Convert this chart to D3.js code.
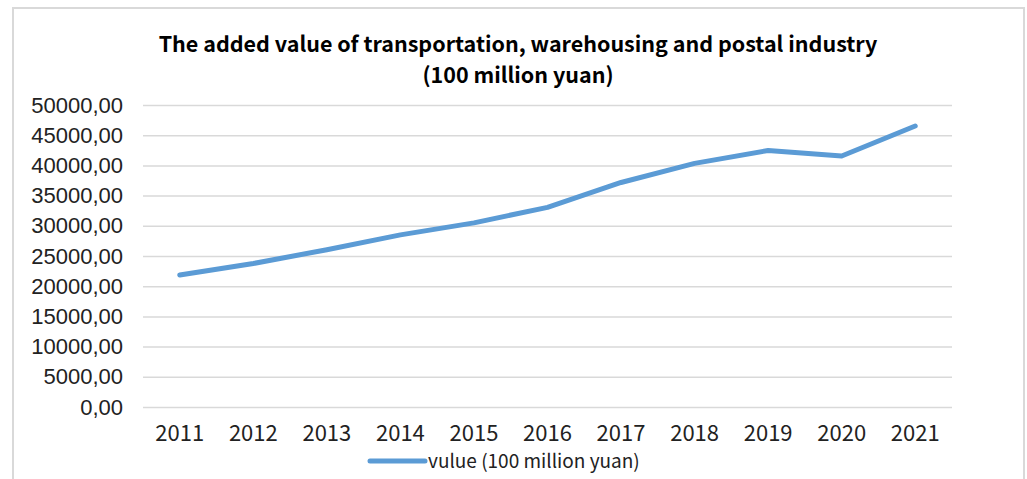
<!DOCTYPE html>
<html>
<head>
<meta charset="utf-8">
<script src="https://cdn.jsdelivr.net/npm/d3@7"></script>
<style>
  body { margin: 0; background: #fff; }
  .grid line { stroke: #d9d9d9; stroke-width: 1.5; }
  .grid .domain { display: none; }
</style>
</head>
<body>
<div id="wrapper"></div>
<script>
// data
const years = ['2011', '2012', '2013', '2014', '2015', '2016', '2017', '2018', '2019', '2020', '2021'];
const values = [21842, 23763, 26043, 28500, 30488, 33059, 37172, 40337, 42466, 41562, 46520];
const yTicks = [0, 5000, 10000, 15000, 20000, 25000, 30000, 35000, 40000, 45000, 50000];
const titleLines = ['The added value of transportation, warehousing and postal industry', '(100 million yuan)'];
const seriesName = 'vulue (100 million yuan)';

const dimensions = {
  width: 1027,
  height: 479,
  margin: { top: 105, right: 75, bottom: 72, left: 143 }
};
dimensions.boundW = dimensions.width - dimensions.margin.left - dimensions.margin.right;
dimensions.boundH = dimensions.height - dimensions.margin.top - dimensions.margin.bottom;

const svg = d3.select('#wrapper').append('svg')
  .attr('width', dimensions.width)
  .attr('height', dimensions.height);

// chart frame
svg.append('rect')
  .attr('x', 13).attr('y', 8)
  .attr('width', 1011).attr('height', 490)
  .attr('fill', '#fff')
  .attr('stroke', '#d9d9d9')
  .attr('stroke-width', 2);

// title
svg.append('g').selectAll('text')
  .data(titleLines)
  .join('text')
  .attr('x', 518)
  .attr('y', (d, i) => 52 + i * 31)
  .attr('text-anchor', 'middle')
  .style('font-family', '"Noto Sans CJK SC", "Noto Sans", sans-serif')
  .style('font-weight', 'bold')
  .style('font-size', '21.5px')
  .attr('fill', '#000')
  .text(d => d);

const bounds = svg.append('g')
  .attr('transform', `translate(${dimensions.margin.left},${dimensions.margin.top})`);

const xScale = d3.scaleBand()
  .domain(years)
  .range([0, dimensions.boundW]);

const yScale = d3.scaleLinear()
  .domain([0, 50000])
  .range([dimensions.boundH, 0]);

// gridlines + y labels
const yAxisGenerator = d3.axisLeft(yScale)
  .tickValues(yTicks)
  .tickSize(-dimensions.boundW)
  .tickPadding(20)
  .tickFormat(d => d3.format('.2f')(d).replace('.', ','));

const yAxis = bounds.append('g')
  .attr('class', 'grid')
  .call(yAxisGenerator);

yAxis.selectAll('text')
  .style('font-family', '"Liberation Sans", Arial, sans-serif')
  .style('font-size', '22px')
  .attr('fill', '#222');

// x labels
const xAxisGenerator = d3.axisBottom(xScale)
  .tickSize(0)
  .tickPadding(18);

const xAxis = bounds.append('g')
  .attr('transform', `translate(0,${dimensions.boundH})`)
  .call(xAxisGenerator);

xAxis.select('.domain').remove();
xAxis.selectAll('text')
  .style('font-family', '"Noto Sans CJK SC", "Noto Sans", sans-serif')
  .style('font-size', '22px')
  .attr('fill', '#222');

// the line
const lineGenerator = d3.line()
  .x((d, i) => xScale(years[i]) + xScale.bandwidth() / 2)
  .y(d => yScale(d));

bounds.append('path')
  .attr('d', lineGenerator(values))
  .attr('fill', 'none')
  .attr('stroke', '#5b9bd5')
  .attr('stroke-width', 5)
  .attr('stroke-linecap', 'round')
  .attr('stroke-linejoin', 'round');

// legend
const legend = svg.append('g')
  .attr('transform', 'translate(370,461)');

legend.append('line')
  .attr('x1', 0).attr('x2', 55)
  .attr('stroke', '#5b9bd5')
  .attr('stroke-width', 5)
  .attr('stroke-linecap', 'round');

legend.append('text')
  .attr('x', 58)
  .attr('y', 7)
  .style('font-family', '"Noto Sans CJK SC", "Noto Sans", sans-serif')
  .style('font-size', '19px')
  .attr('fill', '#222')
  .text(seriesName);
</script>
</body>
</html>
